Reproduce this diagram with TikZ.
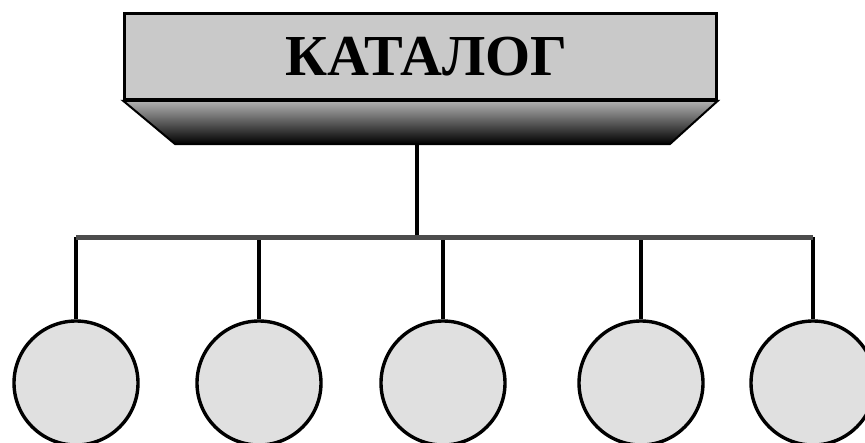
\documentclass[tikz,border=0pt]{standalone}
\usepackage{fontspec}
\setmainfont{Liberation Serif}
\begin{document}
\begin{tikzpicture}[x=1pt, y=-1pt,
  leaf/.style={circle, draw=black, line width=3.4pt, fill=black!12, minimum size=124pt, inner sep=0pt},
  drop/.style={line width=3.2pt}]
\useasboundingbox (0,0) rectangle (865,442);

\node[draw=black, line width=2.6pt, fill=black!21, minimum width=592pt, minimum height=86pt, inner sep=0pt,
  font=\fontsize{58}{60}\selectfont\bfseries] (cat) at (420.5,56.5) {\hspace*{12pt}КАТАЛОГ};
\coordinate (baseL) at (175,144);
\coordinate (baseR) at (670,144);
\coordinate (base) at (417,144);
\shade[top color=black!30, middle color=black!65, bottom color=black, draw=black, line width=2pt]
  (cat.south west) -- (cat.south east) -- (baseR) -- (baseL) -- cycle;

\coordinate (hub) at (417,237);
\draw[drop] (base) -- (hub);

\foreach \x [count=\i] in {76,259,443,641,813} {
  \node[leaf] (f\i) at (\x,383) {};
  \coordinate (b\i) at (\x,237);
  \draw[drop] (b\i) -- (f\i);
}
\draw[line width=5pt, black!70] (b1) -- (b5);
\end{tikzpicture}
\end{document}
